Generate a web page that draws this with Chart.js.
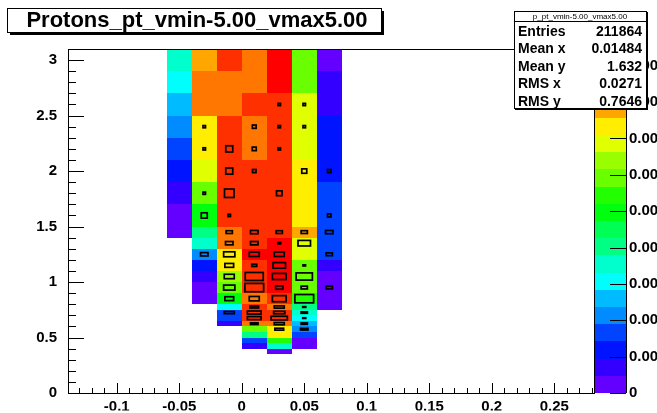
<!DOCTYPE html>
<html>
<head>
<meta charset="utf-8">
<script src="https://cdn.jsdelivr.net/npm/chart.js@4.4.1/dist/chart.umd.min.js"></script>
<style>
  html, body { margin: 0; padding: 0; background: #fff; }
</style>
</head>
<body>
<canvas id="hist" width="657" height="413"></canvas>
<script>
// x bins (7 columns of 0.02)
const xEdges = [-0.06, -0.04, -0.02, 0, 0.02, 0.04, 0.06, 0.08];
// y bins, top edge first (pt binning gets finer at low pt)
const yEdges = [3.1, 2.9, 2.7, 2.5, 2.3, 2.1, 1.9, 1.7, 1.5, 1.4, 1.3, 1.2, 1.1, 1.0,
                0.9, 0.8, 0.75, 0.7, 0.65, 0.6, 0.55, 0.5, 0.45, 0.4, 0.35];

// colour contour (0..19) of each cell, one row per y bin from the top
const levels = [
  [7, 16, 18, 17, 19, 12, 0],
  [6, 17, 17, 17, 19, 12, 1],
  [5, 17, 17, 18, 18, 14, 1],
  [4, 15, 18, 17, 18, 14, 2],
  [3, 15, 18, 17, 18, 14, 2],
  [2, 14, 18, 18, 18, 15, 2],
  [1, 12, 18, 18, 18, 15, 3],
  [0, 10, 18, 18, 18, 15, 3],
  [0, 8, 17, 18, 18, 16, 3],
  [null, 7, 17, 18, 19, 14, 3],
  [null, 4, 15, 19, 19, 14, 3],
  [null, 2, 15, 18, 19, 12, 1],
  [null, 1, 13, 18, 19, 12, 0],
  [null, 0, 12, 18, 19, 12, 0],
  [null, 0, 10, 17, 18, 11, 0],
  [null, null, 6, 18, 17, 8, 0],
  [null, null, 3, 18, 18, 7, null],
  [null, null, 3, 18, 18, 6, null],
  [null, null, 1, 17, 17, 5, null],
  [null, null, null, 12, 15, 4, null],
  [null, null, null, 8, 15, 3, null],
  [null, null, null, 3, 11, 0, null],
  [null, null, null, 1, 7, 0, null],
  [null, null, null, null, 0, null, null]
];

// overlaid box histogram, relative box size per cell
const boxes = [
  [0, 0, 0, 0, 0, 0, 0],
  [0, 0, 0, 0, 0, 0, 0],
  [0, 0, 0, 0, 0.1, 0.1, 0],
  [0, 0.1, 0, 0.15, 0.1, 0.1, 0],
  [0, 0.1, 0.28, 0.16, 0.1, 0, 0],
  [0, 0, 0.28, 0.14, 0, 0.2, 0.14],
  [0, 0.1, 0.38, 0, 0.22, 0, 0],
  [0, 0.24, 0.1, 0, 0, 0, 0.14],
  [0, 0, 0.25, 0.3, 0.25, 0.25, 0.3],
  [0, 0, 0.3, 0.3, 0.12, 0.5, 0],
  [0, 0.3, 0.45, 0.4, 0.4, 0, 0.25],
  [0, 0, 0.35, 0.2, 0.5, 0.1, 0],
  [0, 0, 0.4, 0.72, 0.55, 0.65, 0],
  [0, 0, 0.45, 0.75, 0.3, 0.25, 0.25],
  [0, 0, 0.35, 0.4, 0.55, 0.75, 0],
  [0, 0, 0, 0.35, 0.4, 0.12, 0],
  [0, 0, 0.4, 0.55, 0.45, 0.25, 0],
  [0, 0, 0, 0.55, 0.65, 0.12, 0],
  [0, 0, 0, 0.3, 0.4, 0.25, 0],
  [0, 0, 0, 0, 0.35, 0.3, 0],
  [0, 0, 0, 0, 0, 0, 0],
  [0, 0, 0, 0, 0, 0, 0],
  [0, 0, 0, 0, 0, 0, 0],
  [0, 0, 0, 0, 0, 0, 0]
];

const nContours = 20;
const zMax = 0.00473;
const zStep = 0.0005;

const histTitle = 'Protons_pt_vmin-5.00_vmax5.00';
const statsTitle = 'p_pt_vmin-5.00_vmax5.00';
const statNames = ['Entries', 'Mean x', 'Mean y', 'RMS x', 'RMS y'];
const statValues = ['211864', '0.01484', '1.632', '0.0271', '0.7646'];

const FONT = '"Liberation Sans", Arial, sans-serif';

// root "pretty" palette: 50 hues violet -> red, sampled by contour
function levelColor(c) {
  const idx = Math.floor((c + 0.99) * 50 / nContours);
  const hue = 280 - (idx + 1) * 5.6;
  return 'hsl(' + hue + ',100%,50%)';
}

const th2 = {
  id: 'th2',
  beforeDatasetsDraw(chart) {
    const {ctx, chartArea: a} = chart;
    const x = chart.scales.x, y = chart.scales.y;
    ctx.save();
    ctx.beginPath();
    ctx.rect(a.left, a.top, a.right - a.left, a.bottom - a.top);
    ctx.clip();
    levels.forEach((row, j) => {
      const yt = Math.round(y.getPixelForValue(yEdges[j]));
      const yb = Math.round(y.getPixelForValue(yEdges[j + 1]));
      row.forEach((lv, i) => {
        if (lv === null) return;
        const xl = Math.round(x.getPixelForValue(xEdges[i]));
        const xr = Math.round(x.getPixelForValue(xEdges[i + 1]));
        ctx.fillStyle = levelColor(lv);
        ctx.fillRect(xl, yt, xr - xl, yb - yt);
      });
    });
    ctx.strokeStyle = '#000';
    ctx.lineWidth = 1.7;
    boxes.forEach((row, j) => {
      const yt = y.getPixelForValue(yEdges[j]);
      const yb = y.getPixelForValue(yEdges[j + 1]);
      row.forEach((b, i) => {
        if (!b) return;
        const xl = x.getPixelForValue(xEdges[i]);
        const xr = x.getPixelForValue(xEdges[i + 1]);
        const w = b * (xr - xl), h = b * (yb - yt);
        ctx.strokeRect((xl + xr) / 2 - w / 2, (yt + yb) / 2 - h / 2, w, h);
      });
    });
    ctx.restore();
  },
  afterDraw(chart) {
    const {ctx, chartArea: a} = chart;
    const x = chart.scales.x, y = chart.scales.y, z = chart.scales.z;
    ctx.save();
    ctx.strokeStyle = '#000';
    ctx.lineWidth = 1;

    // frame
    ctx.strokeRect(a.left + 0.5, a.top + 0.5, a.right - a.left, a.bottom - a.top);

    // inward ticks, minor every 0.01 on x and 0.1 on y
    ctx.beginPath();
    for (let k = Math.ceil(x.min / 0.01); k * 0.01 <= x.max; k++) {
      const px = Math.round(x.getPixelForValue(k * 0.01)) + 0.5;
      const len = k % 5 === 0 ? 10 : 5;
      ctx.moveTo(px, a.bottom);
      ctx.lineTo(px, a.bottom - len);
    }
    for (let k = 0; k * 0.1 <= y.max + 1e-9; k++) {
      const py = Math.round(y.getPixelForValue(k * 0.1)) + 0.5;
      const len = k % 5 === 0 ? 16 : 8;
      ctx.moveTo(a.left, py);
      ctx.lineTo(a.left + len, py);
    }
    ctx.stroke();

    // colour bar
    const bl = a.right + 1, br = a.right + 32;
    for (let k = 0; k < nContours; k++) {
      const t = Math.round(z.getPixelForValue((k + 1) * zMax / nContours));
      const b = Math.round(z.getPixelForValue(k * zMax / nContours));
      ctx.fillStyle = levelColor(k);
      ctx.fillRect(bl, t, br - bl, b - t);
    }
    ctx.beginPath();
    ctx.moveTo(br + 0.5, z.top);
    ctx.lineTo(br + 0.5, z.bottom);
    z.ticks.forEach(t => {
      const py = Math.round(z.getPixelForValue(t.value)) + 0.5;
      ctx.moveTo(br, py);
      ctx.lineTo(br - 16, py);
    });
    ctx.stroke();
    ctx.fillStyle = '#000';
    ctx.font = 'bold 15px ' + FONT;
    ctx.textAlign = 'left';
    ctx.textBaseline = 'middle';
    z.ticks.forEach(t => {
      const py = z.getPixelForValue(t.value);
      ctx.fillText(t.value === 0 ? '0' : String(+t.value.toFixed(5)), br + 3, Math.min(py, 403));
    });

    // title pave
    ctx.fillStyle = '#000';
    ctx.fillRect(10, 11, 374, 24);
    ctx.fillStyle = '#fff';
    ctx.fillRect(8, 9, 373, 23);
    ctx.strokeRect(7.5, 8.5, 374, 24);
    ctx.fillStyle = '#000';
    ctx.font = 'bold 22px ' + FONT;
    ctx.textAlign = 'center';
    ctx.fillText(histTitle, 197, 21);

    // stats box
    const sx = 514, sy = 11, sw = 132, sh = 97;
    ctx.fillStyle = '#000';
    ctx.fillRect(sx + 1, sy + 1, sw + 1, sh + 1);
    ctx.fillStyle = '#fff';
    ctx.fillRect(sx, sy, sw, sh);
    ctx.strokeRect(sx + 0.5, sy + 0.5, sw, sh);
    ctx.beginPath();
    ctx.moveTo(sx, sy + 10.5);
    ctx.lineTo(sx + sw, sy + 10.5);
    ctx.stroke();
    ctx.fillStyle = '#000';
    ctx.font = '8px ' + FONT;
    ctx.textAlign = 'center';
    ctx.fillText(statsTitle, sx + sw / 2, sy + 5.5);
    ctx.font = 'bold 14px ' + FONT;
    statNames.forEach((n, i) => {
      const py = 32 + i * 17.5;
      ctx.textAlign = 'left';
      ctx.fillText(n, sx + 4, py);
      ctx.textAlign = 'right';
      ctx.fillText(statValues[i], sx + sw - 4, py);
    });
    ctx.restore();
  }
};

const tickFont = {family: FONT, size: 15, weight: 'bold'};

new Chart(document.getElementById('hist'), {
  type: 'scatter',
  data: {datasets: [{data: []}]},
  options: {
    responsive: false,
    animation: false,
    devicePixelRatio: 1,
    layout: {padding: {top: 49, left: 0, right: 0, bottom: 0}},
    plugins: {legend: {display: false}, tooltip: {enabled: false}},
    scales: {
      x: {
        type: 'linear', min: -0.139, max: 0.2818,
        grid: {display: false, drawTicks: false}, border: {display: false},
        ticks: {
          stepSize: 0.05, includeBounds: false, autoSkip: false, maxRotation: 0,
          color: '#000', font: tickFont, padding: 5,
          callback: v => String(+v.toFixed(3))
        },
        afterFit: s => { s.height = 17.5; }
      },
      y: {
        type: 'linear', min: 0, max: 3.1,
        grid: {display: false, drawTicks: false}, border: {display: false},
        ticks: {
          stepSize: 0.5, includeBounds: false, color: '#000', font: tickFont, padding: 11,
          callback: v => String(+v.toFixed(2))
        },
        afterFit: s => { s.width = 68; }
      },
      z: {
        type: 'linear', position: 'right', min: 0, max: zMax,
        grid: {display: false, drawTicks: false}, border: {display: false},
        ticks: {display: false, stepSize: zStep, includeBounds: false},
        afterFit: s => { s.width = 63; }
      }
    }
  },
  plugins: [th2]
});
</script>
</body>
</html>
